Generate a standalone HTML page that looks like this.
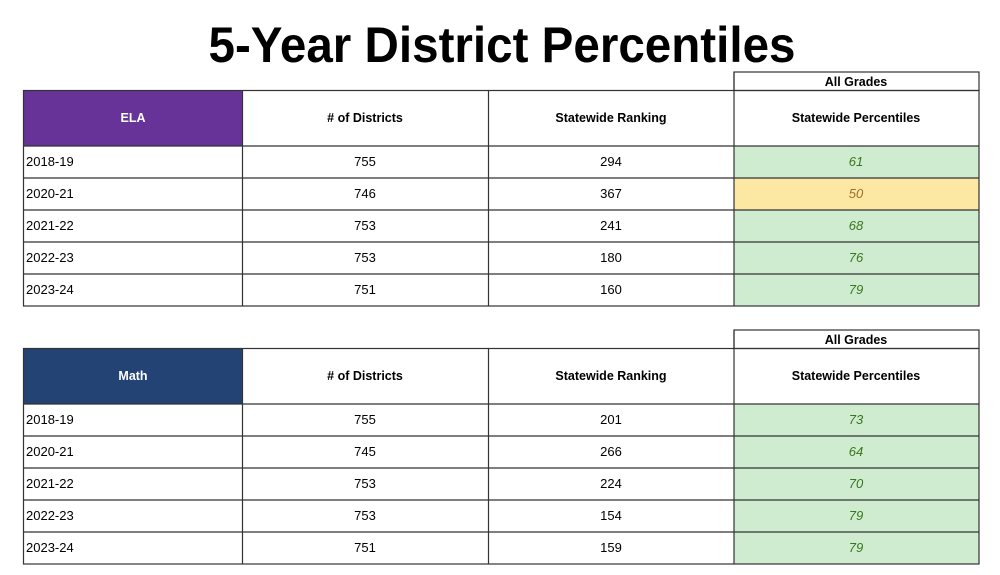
<!DOCTYPE html>
<html><head><meta charset="utf-8"><style>html,body{margin:0;padding:0;background:#fff;}svg{display:block}</style></head>
<body>
<svg width="1000" height="575" viewBox="0 0 1000 575" xmlns="http://www.w3.org/2000/svg" font-family="Liberation Sans, Arial, sans-serif">
<text x="502" y="62" text-anchor="middle" font-size="50" font-weight="bold" textLength="587" lengthAdjust="spacingAndGlyphs" fill="#000">5-Year District Percentiles</text>

<!-- ELA table -->
<g>
<rect x="24" y="91" width="218" height="55" fill="#673399"/>
<rect x="734" y="146" width="245" height="160" fill="#d0ecd0"/>
<rect x="734" y="178" width="245" height="32" fill="#fce8a3"/>
<g stroke="#333" stroke-width="1.2" fill="none">
<rect x="734" y="72" width="245" height="18.5"/>
<rect x="23.5" y="90.5" width="955.5" height="215.5"/>
<line x1="23.5" y1="146" x2="979" y2="146"/>
<line x1="23.5" y1="178" x2="979" y2="178"/>
<line x1="23.5" y1="210" x2="979" y2="210"/>
<line x1="23.5" y1="242" x2="979" y2="242"/>
<line x1="23.5" y1="274" x2="979" y2="274"/>
<line x1="242.5" y1="90.5" x2="242.5" y2="306"/>
<line x1="488.5" y1="90.5" x2="488.5" y2="306"/>
<line x1="734" y1="72" x2="734" y2="306"/>
</g>
<g font-size="12.5" font-weight="bold" text-anchor="middle">
<text x="856" y="86">All Grades</text>
<text x="133" y="122" fill="#fff">ELA</text>
<text x="365" y="122"># of Districts</text>
<text x="611" y="122">Statewide Ranking</text>
<text x="856" y="122">Statewide Percentiles</text>
</g>
<g font-size="13">
<text x="26" y="166">2018-19</text>
<text x="26" y="198">2020-21</text>
<text x="26" y="230">2021-22</text>
<text x="26" y="262">2022-23</text>
<text x="26" y="294">2023-24</text>
</g>
<g font-size="13" text-anchor="middle">
<text x="365" y="166">755</text><text x="611" y="166">294</text>
<text x="365" y="198">746</text><text x="611" y="198">367</text>
<text x="365" y="230">753</text><text x="611" y="230">241</text>
<text x="365" y="262">753</text><text x="611" y="262">180</text>
<text x="365" y="294">751</text><text x="611" y="294">160</text>
</g>
<g font-size="13" font-style="italic" text-anchor="middle" fill="#38761d">
<text x="856" y="166">61</text>
<text x="856" y="198" fill="#a0702a">50</text>
<text x="856" y="230">68</text>
<text x="856" y="262">76</text>
<text x="856" y="294">79</text>
</g>
</g>

<!-- Math table -->
<g>
<rect x="24" y="349" width="218" height="55" fill="#224373"/>
<rect x="734" y="404" width="245" height="160" fill="#d0ecd0"/>
<g stroke="#333" stroke-width="1.2" fill="none">
<rect x="734" y="330" width="245" height="18.5"/>
<rect x="23.5" y="348.5" width="955.5" height="215.5"/>
<line x1="23.5" y1="404" x2="979" y2="404"/>
<line x1="23.5" y1="436" x2="979" y2="436"/>
<line x1="23.5" y1="468" x2="979" y2="468"/>
<line x1="23.5" y1="500" x2="979" y2="500"/>
<line x1="23.5" y1="532" x2="979" y2="532"/>
<line x1="242.5" y1="348.5" x2="242.5" y2="564"/>
<line x1="488.5" y1="348.5" x2="488.5" y2="564"/>
<line x1="734" y1="330" x2="734" y2="564"/>
</g>
<g font-size="12.5" font-weight="bold" text-anchor="middle">
<text x="856" y="344">All Grades</text>
<text x="133" y="380" fill="#fff">Math</text>
<text x="365" y="380"># of Districts</text>
<text x="611" y="380">Statewide Ranking</text>
<text x="856" y="380">Statewide Percentiles</text>
</g>
<g font-size="13">
<text x="26" y="424">2018-19</text>
<text x="26" y="456">2020-21</text>
<text x="26" y="488">2021-22</text>
<text x="26" y="520">2022-23</text>
<text x="26" y="552">2023-24</text>
</g>
<g font-size="13" text-anchor="middle">
<text x="365" y="424">755</text><text x="611" y="424">201</text>
<text x="365" y="456">745</text><text x="611" y="456">266</text>
<text x="365" y="488">753</text><text x="611" y="488">224</text>
<text x="365" y="520">753</text><text x="611" y="520">154</text>
<text x="365" y="552">751</text><text x="611" y="552">159</text>
</g>
<g font-size="13" font-style="italic" text-anchor="middle" fill="#38761d">
<text x="856" y="424">73</text>
<text x="856" y="456">64</text>
<text x="856" y="488">70</text>
<text x="856" y="520">79</text>
<text x="856" y="552">79</text>
</g>
</g>
</svg>
</body></html>
